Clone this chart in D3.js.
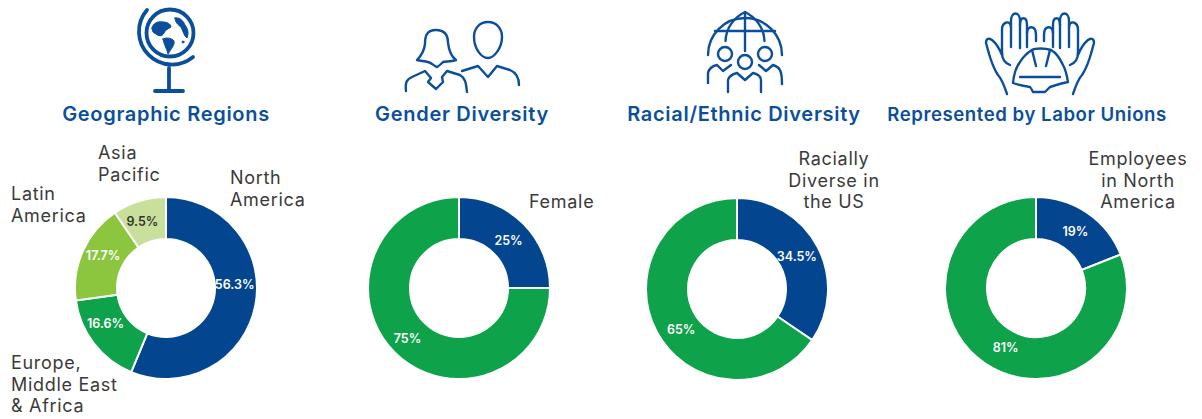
<!DOCTYPE html>
<html>
<head>
<meta charset="utf-8">
<script src="https://cdn.jsdelivr.net/npm/d3@7"></script>
<style>
  html, body { margin: 0; padding: 0; background: #fff; }
  text { font-family: "Inter", "Noto Sans", sans-serif; }
  .title { font-weight: 600; fill: #0b4f9c; text-anchor: middle; }
  .name { font-size: 18px; font-weight: 400; letter-spacing: 0.7px; fill: #3a3a3a; }
  .pct { font-size: 12.5px; font-weight: 600; fill: #fff; text-anchor: middle; dominant-baseline: middle; }
  .icon { fill: none; stroke: #0b4f9c; stroke-width: 2.4; stroke-linecap: round; stroke-linejoin: round; }
  .land { fill: #0b4f9c; stroke-width: 1; }
</style>
</head>
<body>
<div id="chart"></div>
<script>
// values
const titles = ['Geographic Regions', 'Gender Diversity', 'Racial/Ethnic Diversity', 'Represented by Labor Unions'];
const regionValues = [56.3, 16.6, 17.7, 9.5];
const regionLabels = ['56.3%', '16.6%', '17.7%', '9.5%'];
const genderValues = [25, 75];
const genderLabels = ['25%', '75%'];
const racialValues = [34.5, 65.5];
const racialLabels = ['34.5%', '65%'];
const unionValues = [19, 81];
const unionLabels = ['19%', '81%'];

const blue = '#03468f', green = '#0ea24a', lime = '#8cc63f', pale = '#c8e09c';

const width = 1202, height = 419;
const outerR = 91, innerR = 49, labelR = 70;

const svg = d3.select('#chart').append('svg')
  .attr('width', width).attr('height', height)
  .style('display', 'block');

const pie = d3.pie().sort(null).value(d => d);
const arc = d3.arc().innerRadius(innerR).outerRadius(outerR);
const labelArc = d3.arc().innerRadius(labelR).outerRadius(labelR);

// layout of each donut: centre, label nudges
const donuts = [
  { cx: 166, cy: 288, values: regionValues, labels: regionLabels, colors: [blue, green, lime, pale],
    nudge: [[0, -16], [-5, -6], [1, -3], [-3, 1]], dark: [3] },
  { cx: 459, cy: 288, values: genderValues, labels: genderLabels, colors: [blue, green],
    nudge: [[0, 3], [-2, 2]], dark: [] },
  { cx: 737, cy: 289, values: racialValues, labels: racialLabels, colors: [blue, green],
    nudge: [[-2, 1], [6, 9]], dark: [] },
  { cx: 1036, cy: 288, values: unionValues, labels: unionLabels, colors: [blue, green],
    nudge: [[0, 2], [9, 3]], dark: [] }
];

donuts.forEach(d => {
  const g = svg.append('g').attr('transform', `translate(${d.cx},${d.cy})`);
  const slices = pie(d.values);

  g.selectAll('path')
    .data(slices)
    .enter().append('path')
    .attr('d', arc)
    .attr('fill', (s, i) => d.colors[i])
    .attr('stroke', '#fff')
    .attr('stroke-width', 2);

  g.selectAll('.pct')
    .data(slices)
    .enter().append('text')
    .attr('class', 'pct')
    .attr('x', (s, i) => labelArc.centroid(s)[0] + d.nudge[i][0])
    .attr('y', (s, i) => labelArc.centroid(s)[1] + d.nudge[i][1])
    .style('fill', (s, i) => d.dark.includes(i) ? '#333' : null)
    .text((s, i) => d.labels[i]);
});

// section titles, the last one is set tighter in the original
const titleX = [166, 462, 744, 1027];
const titleSize = [20, 20, 20, 18.6];
const titleTrack = [0.7, 0.7, 0.7, 0.55];
svg.selectAll('.title')
  .data(titles)
  .enter().append('text')
  .attr('class', 'title')
  .attr('x', (d, i) => titleX[i])
  .attr('y', 121)
  .style('font-size', (d, i) => titleSize[i] + 'px')
  .style('letter-spacing', (d, i) => titleTrack[i] + 'px')
  .text(d => d);

// slice names, wrapped by hand like the original
function nameBlock(lines, x, y, anchor) {
  svg.append('text')
    .attr('class', 'name')
    .attr('text-anchor', anchor || 'start')
    .selectAll('tspan')
    .data(lines)
    .enter().append('tspan')
    .attr('x', x)
    .attr('y', (d, i) => y + i * 21.7)
    .text(d => d);
}
nameBlock(['North', 'America'], 230, 184);
nameBlock(['Asia', 'Pacific'], 98, 159);
nameBlock(['Latin', 'America'], 11, 200);
nameBlock(['Europe,', 'Middle East', '& Africa'], 11, 369);
nameBlock(['Female'], 529, 208);
nameBlock(['Racially', 'Diverse in', 'the US'], 834, 165, 'middle');
nameBlock(['Employees', 'in North', 'America'], 1138, 165, 'middle');

// icons
function icon(tx, ty) {
  return svg.append('g').attr('class', 'icon').attr('transform', `translate(${tx},${ty})`);
}

// globe
const globe = icon(120, 0).style('stroke-width', 3.8);
globe.append('circle').attr('cx', 50).attr('cy', 33).attr('r', 23.5);
globe.append('path').attr('d', 'M27 10 A33 33 0 0 0 73 57');
globe.append('path').attr('d', 'M49 68 V90 M35 91 H63');
globe.append('path').attr('class', 'land')
  .attr('d', 'M32 28 C33 23 38 21 43 22 C47 22 51 24 51 27 C48 29 45 30 44 33 C42 37 38 36 36 34 C33 33 32 31 32 28 Z');
globe.append('path').attr('class', 'land')
  .attr('d', 'M43 39 C46 37 52 38 54 41 C55 45 51 49 48 54 C47 49 44 45 43 39 Z');
globe.append('path').attr('class', 'land')
  .attr('d', 'M55 18 C59 17 63 20 65 25 C68 29 69 33 67 38 C64 36 63 31 61 27 C58 25 55 22 55 18 Z');
globe.append('circle').attr('class', 'land').attr('cx', 63).attr('cy', 42).attr('r', 1);

// two people
const people = icon(390, 10);
people.append('path').attr('d', 'M27 50 C31 46 34 42 35 34 C35 27 36 20 46 20 C56 20 58 27 58 33 C59 41 62 47 66 50 C60 52 56 51 53 52 C51 54 49 56 47 57 C44 56 42 53 38 52 C35 51 31 51 27 50 Z');
people.append('path').attr('d', 'M16 81 C15 72 17 69 22 67 L35 61 L41 68 L38 72 L46 79 L53 72 L52 67 L57 61 L70 65 C75 68 76 72 77 82');
people.append('path').attr('d', 'M98 12 C107 12 112 19 112 27 C112 38 104 48 98 48 C91 48 84 38 84 27 C84 19 89 12 98 12 Z');
people.append('path').attr('d', 'M72 61 L88 56 L98 67 L107 56 L120 60 C127 63 129 68 129 75');

// globe with three people
const world = icon(695, 5);
world.append('path').attr('d', 'M13 50 A37 37 0 0 1 87 50');
world.append('path').attr('d', 'M20 26 H80 M50 7 V46 M30.5 36 C31 22 40 12 50 7 C60 12 69 22 69.5 36');
world.append('circle').attr('cx', 30).attr('cy', 49).attr('r', 7);
world.append('circle').attr('cx', 50).attr('cy', 57).attr('r', 7);
world.append('circle').attr('cx', 70).attr('cy', 49).attr('r', 7);
world.append('path').attr('d', 'M13 78 V68 C14 63 18 61 22 60 L28 66 L36 60');
world.append('path').attr('d', 'M64 60 L71 66 L78 60 C84 62 87 64 87 79');
world.append('path').attr('d', 'M33 87 V75 C34 71 38 69 42 68 L50 75 L58 68 C62 69 66 71 66 75 V87');

// hands and hard hat, the right hand mirrors the left
const hands = icon(975, 5);
[[1, 0], [-1, 130]].forEach(([sx, dx]) => {
  const h = hands.append('g').attr('transform', `translate(${dx},0) scale(${sx},1)`);
  h.append('path').attr('d', 'M32 89 C29 80 27 74 23 70 C16 60 14 48 11 38 C11 33 14 33 17 35 C22 39 25 45 27 50 V25 C27 16 36 15 36 22');
  h.append('path').attr('d', 'M36 42 V16 C36 6 45 6 45 16 V43');
  h.append('path').attr('d', 'M45 20 C45 11 52 11 52 20 V42');
  h.append('path').attr('d', 'M52 28 C52 20 61 20 61 30 V36');
  h.append('path').attr('d', 'M27 48 C27 55 30 58 35 60');
});
hands.append('path').attr('d', 'M38 78 C39 68 41 62 45 57 C48 52 52 48 57 45 C60 43 70 43 76 45 C82 48 85 54 88 60 C91 65 92 71 93 77 C87 78 81 80 75 82 C73 84 71 86 70 87 H58 C57 85 56 83 55 82 C49 81 43 80 38 78 Z');
hands.append('path').attr('d', 'M57 45 L61 61 M71 61 L75 45 M45 72 H85');
</script>
</body>
</html>
